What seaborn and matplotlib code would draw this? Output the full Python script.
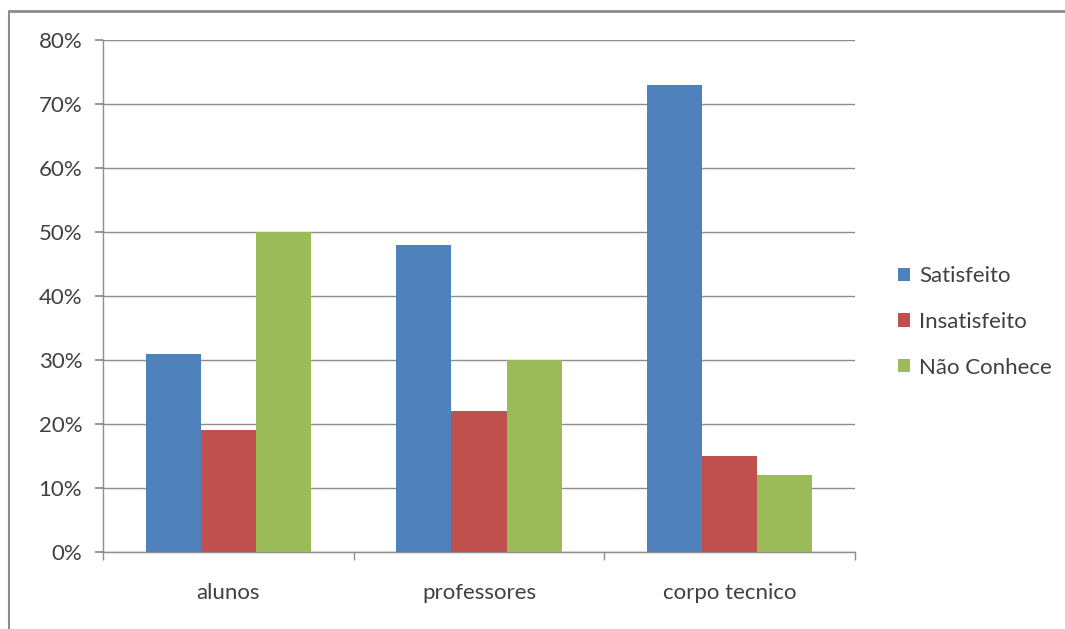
import matplotlib
matplotlib.use("Agg")
import matplotlib.pyplot as plt
import matplotlib.patches as mpatches
from matplotlib.ticker import FuncFormatter, FixedLocator
import seaborn as sns
import pandas as pd

categories = ["alunos", "professores", "corpo tecnico"]
series_names = ["Satisfeito", "Insatisfeito", "Não Conhece"]
satisfeito = [0.31, 0.48, 0.73]
insatisfeito = [0.19, 0.22, 0.15]
nao_conhece = [0.50, 0.30, 0.12]
colors = ["#4F81BD", "#C0504D", "#9BBB59"]

rows = []
for name, vals in zip(series_names, [satisfeito, insatisfeito, nao_conhece]):
    for c, v in zip(categories, vals):
        rows.append({"cat": c, "serie": name, "val": v})
df = pd.DataFrame(rows)

sns.set_theme(style="white")
plt.rcParams["font.family"] = ["Lato", "DejaVu Sans"]
txt = "#404040"

fig = plt.figure(figsize=(10.65, 6.29), dpi=100)
ax = fig.add_axes([103/1065, 1 - 552/629, (855-103)/1065, (552-40)/629])

sns.barplot(data=df, x="cat", y="val", hue="serie", order=categories,
            hue_order=series_names, palette=colors, width=0.66, gap=0,
            saturation=1, ax=ax, legend=False, zorder=3, linewidth=0,
            edgecolor="none")

ax.set_ylim(0, 0.8)
ax.set_xlim(-0.5, 2.5)
ax.yaxis.set_major_locator(FixedLocator([i/10 for i in range(9)]))
ax.yaxis.set_major_formatter(FuncFormatter(lambda v, p: f"{v*100:.0f}%"))
ax.grid(axis="y", color="#8C8C8C", linewidth=1, zorder=0)
ax.set_axisbelow(True)
for s in ["top", "right"]:
    ax.spines[s].set_visible(False)
for s in ["left", "bottom"]:
    ax.spines[s].set_color("#8C8C8C")
    ax.spines[s].set_linewidth(1)
ax.set_xlabel("")
ax.set_ylabel("")
ax.tick_params(axis="y", length=6, color="#8C8C8C", labelsize=16, labelcolor=txt, pad=9, left=True)
ax.tick_params(axis="x", which="major", length=0, labelsize=16, labelcolor=txt, pad=22)
ax.set_xticks(range(3))
ax.set_xticklabels(categories)
ax.set_xticks([-0.5, 0.5, 1.5, 2.5], minor=True)
ax.tick_params(axis="x", which="minor", length=6, color="#8C8C8C", bottom=True)

handles = [mpatches.Patch(facecolor=c, edgecolor="none", label=n) for c, n in zip(colors, series_names)]
fig.legend(handles=handles, loc="center left", bbox_to_anchor=(878/1065, 1 - 322/629),
           frameon=False, fontsize=16, labelcolor=txt, handlelength=0.55, handleheight=0.55,
           handletextpad=0.4, labelspacing=1.15)

# outer frame (partially visible)
fig.add_artist(plt.Line2D([9/1065, 9/1065], [0, 1 - 11/629], color="#8C8C8C", lw=1.5))
fig.add_artist(plt.Line2D([9/1065, 1], [1 - 11/629, 1 - 11/629], color="#8C8C8C", lw=2))

fig.savefig("out.png", dpi=100)
